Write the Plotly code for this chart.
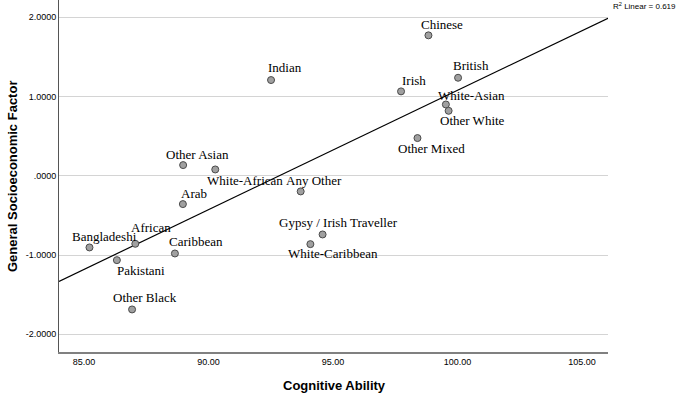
import numpy as np
import plotly.graph_objects as go

# ---- data ----
groups = ["Other Asian", "White-African", "Any Other", "Arab", "Bangladeshi", "African",
          "Caribbean", "Pakistani", "Other Black", "Gypsy / Irish Traveller", "White-Caribbean",
          "Indian", "Chinese", "British", "Irish", "White-Asian", "Other White", "Other Mixed"]
cognitive = [88.98, 90.27, 93.70, 88.97, 85.22, 87.06,
             88.65, 86.32, 86.93, 94.58, 94.09,
             92.51, 98.83, 100.02, 97.73, 99.53, 99.64, 98.39]
socio = [0.135, 0.080, -0.197, -0.357, -0.904, -0.858,
         -0.980, -1.064, -1.686, -0.740, -0.862,
         1.208, 1.772, 1.237, 1.065, 0.900, 0.820, 0.476]

x_ticks = [85, 90, 95, 100, 105]
x_tick_labels = ["85.00", "90.00", "95.00", "100.00", "105.00"]
y_ticks = [2, 1, 0, -1, -2]
y_tick_labels = ["2.0000", "1.0000", ".0000", "-1.0000", "-2.0000"]
x_title = "Cognitive Ability"
y_title = "General Socioeconomic Factor"
r2_text = "R<sup>2</sup> Linear = 0.619"

# ---- label placement (pixel offsets of label centre from the point) ----
label_dx = [14, 30, 13, 11, 15, 16, 21, 24, 13, 16, 23, 14, 14, 13, 13, 26, 24, 14]
label_dy = [-11, 11, -11, -11, -11, -16, -12, 10, -12, -12, 9, -13, -11, -12, -11, -9, 10, 10]

x_range = [83.996, 106.04]
y_range = [-2.223, 2.218]

slope, intercept = np.polyfit(cognitive, socio, 1)
line_x = np.array(x_range)
line_y = intercept + slope * line_x

W, H = 678, 393
ML, MR, MT, MB = 59, 70, 0, 41
PW, PH = W - ML - MR, H - MT - MB

fig = go.Figure()
fig.add_trace(go.Scatter(x=line_x, y=line_y, mode="lines",
                         line=dict(color="black", width=1.2), hoverinfo="skip",
                         showlegend=False))
fig.add_trace(go.Scatter(x=cognitive, y=socio, mode="markers",
                         marker=dict(size=7, color="#a0a0a0",
                                     line=dict(color="#4a4a4a", width=1)),
                         text=groups, showlegend=False))

for g, xv, yv, dx, dy in zip(groups, cognitive, socio, label_dx, label_dy):
    fig.add_annotation(x=xv, y=yv, text=g, showarrow=False, xanchor="center",
                       yanchor="middle", xshift=dx, yshift=-dy,
                       font=dict(family="Liberation Serif", size=13, color="black"))

# R² note, flush with the right edge of the figure
fig.add_annotation(xref="paper", yref="paper", x=1 + MR / PW, y=1, xanchor="right",
                   yanchor="middle", yshift=-6, text=r2_text, showarrow=False,
                   font=dict(family="Liberation Sans", size=8, color="black"))

# axis titles
fig.add_annotation(xref="paper", yref="paper", x=(334 - ML) / PW, y=(PH - 385 + MT) / PH,
                   xanchor="center", yanchor="middle", showarrow=False,
                   text="<b>" + x_title + "</b>",
                   font=dict(family="Liberation Sans", size=13, color="black"))
fig.add_annotation(xref="paper", yref="paper", x=(12 - ML) / PW, y=(PH - 177 + MT) / PH,
                   xanchor="center", yanchor="middle", showarrow=False, textangle=-90,
                   text="<b>" + y_title + "</b>",
                   font=dict(family="Liberation Sans", size=13, color="black"))

fig.update_layout(
    width=W, height=H,
    margin=dict(l=ML, r=MR, t=MT, b=MB, autoexpand=False),
    paper_bgcolor="white", plot_bgcolor="white",
    font=dict(family="Liberation Sans", color="black"),
)
fig.update_xaxes(range=x_range, tickvals=x_ticks, ticktext=x_tick_labels, automargin=False,
                 showgrid=False, zeroline=False, showline=True,
                 linecolor="#808080", linewidth=2, ticks="",
                 tickfont=dict(size=9, color="black"))
fig.update_yaxes(range=y_range, tickvals=y_ticks, ticktext=y_tick_labels, automargin=False,
                 showgrid=True, gridcolor="#d4d4d4", gridwidth=1, zeroline=False,
                 showline=True, linecolor="#555555", linewidth=1, ticks="",
                 tickfont=dict(size=9, color="black"))

fig.write_html("out.html", config={"displayModeBar": False},
               post_script="document.body.style.margin='0';document.body.style.padding='0';")
